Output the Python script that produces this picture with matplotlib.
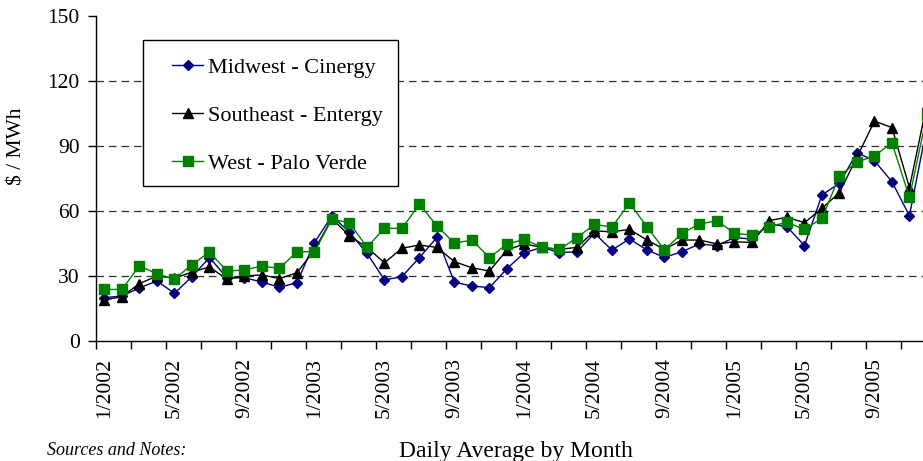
import matplotlib
matplotlib.use("Agg")
import matplotlib.pyplot as plt
from matplotlib.patches import Rectangle
import numpy as np

plt.rcParams['font.family'] = ['Liberation Serif', 'DejaVu Serif']

years = [2002, 2003, 2004, 2005]
months = [f"{m}/{y}" for y in years for m in range(1, 13)]

midwest = [20.0, 20.8, 24.5, 27.7, 22.0, 29.7, 38.5, 29.2, 29.2, 27.2, 24.8, 26.9,
           45.4, 57.8, 50.2, 40.5, 28.2, 29.7, 38.5, 47.8, 27.1, 25.4, 24.6, 33.4,
           40.8, 43.2, 40.8, 41.2, 49.7, 42.0, 47.1, 42.0, 38.6, 41.2, 44.8, 44.0,
           47.8, 47.0, 54.0, 52.8, 44.0, 67.4, 72.8, 86.9, 83.2, 73.5, 57.8, 99.0]
southeast = [18.9, 20.5, 26.5, 30.0, 29.0, 31.8, 34.2, 28.5, 30.0, 30.5, 28.8, 31.5,
             42.0, 56.6, 48.5, 43.2, 36.1, 42.8, 44.3, 43.2, 36.6, 33.8, 32.3, 42.0,
             44.8, 43.2, 42.3, 43.2, 50.8, 50.4, 51.5, 46.6, 42.3, 46.6, 46.6, 44.8,
             45.8, 45.5, 55.6, 57.1, 54.6, 61.2, 68.5, 84.8, 101.5, 98.5, 70.8, 109.5]
west = [23.8, 23.8, 34.7, 31.0, 28.5, 35.3, 41.0, 32.3, 32.8, 34.6, 33.5, 41.2,
        41.2, 56.2, 54.6, 43.3, 52.0, 52.0, 63.1, 53.1, 45.1, 46.6, 38.5, 44.7,
        46.9, 43.2, 42.3, 47.7, 53.8, 52.6, 63.6, 52.8, 42.0, 49.7, 54.0, 55.5,
        49.7, 48.9, 52.8, 54.8, 51.5, 56.6, 76.2, 82.6, 85.4, 91.5, 66.3, 104.5]

series_names = ["Midwest - Cinergy", "Southeast - Entergy", "West - Palo Verde"]
label_months = ["1/2002", "5/2002", "9/2002", "1/2003", "5/2003", "9/2003",
                "1/2004", "5/2004", "9/2004", "1/2005", "5/2005", "9/2005"]
y_ticks = [0, 30, 60, 90, 120, 150]

W, H = 923, 461
fig = plt.figure(figsize=(W / 100, H / 100), dpi=100)
ax = fig.add_axes([95.7 / W, 120 / H, 840 / W, 325 / H])

x = np.arange(len(months))
ax.plot(x, midwest, color='#000080', marker='D', ms=5.5, lw=1.0, label=series_names[0])
ax.plot(x, southeast, color='black', marker='^', ms=7.5, lw=1.0, label=series_names[1])
ax.plot(x, west, color='#008000', marker='s', ms=7.5, lw=1.0, label=series_names[2])

ax.set_xlim(-0.5, len(months) - 0.5)
ax.set_ylim(0, 150)
for yv in y_ticks[1:-1]:
    ax.axhline(yv, color='#303030', lw=0.9, ls=(0, (6, 4)), zorder=0)

ax.set_yticks(y_ticks)
ax.tick_params(axis='y', length=5.5, width=1, direction='out', pad=6, labelsize=15.5)

ax.set_xticks(np.arange(-0.5, len(months), 2))
ax.set_xticklabels([])
ax.tick_params(axis='x', which='major', length=5.5, width=1, direction='out')
label_pos = [months.index(m) for m in label_months]
ax.set_xticks(label_pos, minor=True)
ax.set_xticklabels(label_months, minor=True, rotation=90, fontsize=15.5)
ax.tick_params(axis='x', which='minor', length=0, pad=12)

for s in ['top', 'right']:
    ax.spines[s].set_visible(False)
for s in ['left', 'bottom']:
    ax.spines[s].set_linewidth(1.0)

fig.text(515.7 / W, (H - 451) / H, "Daily Average by Month", ha='center', va='center', fontsize=17)
fig.text(17 / W, (H - 146) / H, "$ / MWh", ha='center', va='center', rotation=90, fontsize=15.5)
fig.text(47 / W, (H - 455) / H, "Sources and Notes:", ha='left', va='baseline',
         fontsize=13, style='italic')

box = Rectangle((143 / W, (H - 186) / H), 255 / W, 146 / H,
                transform=fig.transFigure, fill=True, facecolor='white',
                edgecolor='black', lw=1.0, zorder=8, clip_on=False)
ax.add_patch(box)
leg = ax.legend(loc='upper left', bbox_to_anchor=(172 / W, (H - 57) / H),
                bbox_transform=fig.transFigure, frameon=False, fontsize=16,
                borderpad=0, borderaxespad=0, labelspacing=1.25,
                handlelength=1.4, handletextpad=0.2)
leg.set_zorder(10)

fig.savefig("out.png", dpi=100)
